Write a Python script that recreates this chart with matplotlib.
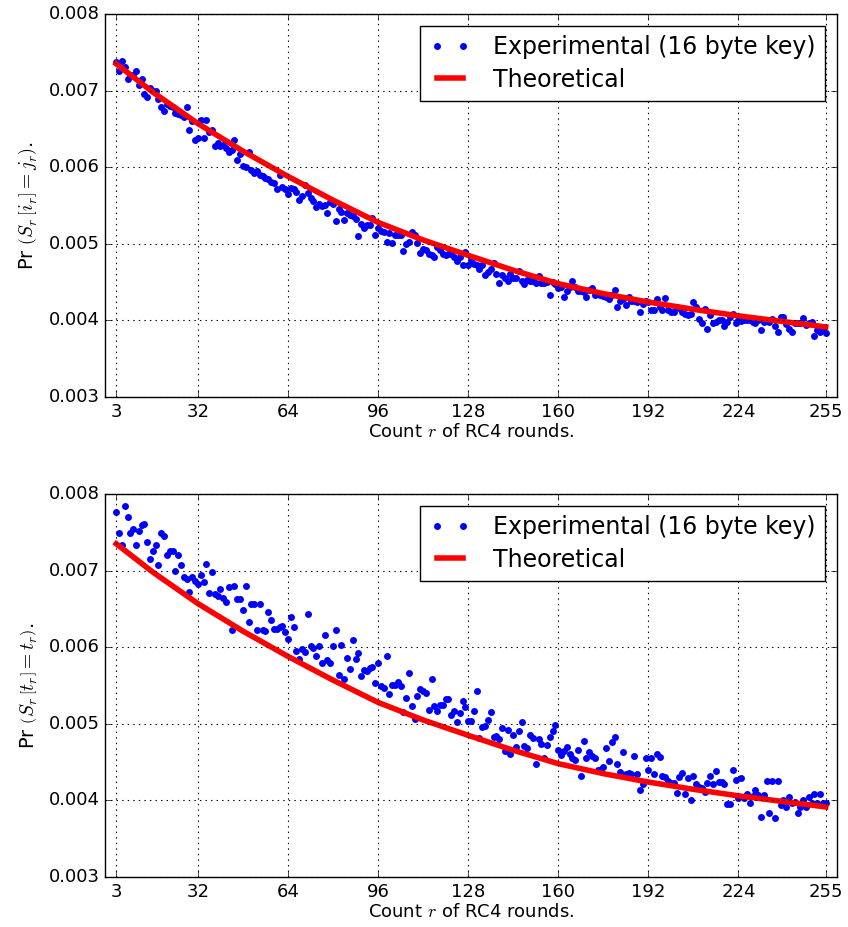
import numpy as np
import matplotlib
matplotlib.use("Agg")
import matplotlib.pyplot as plt

plt.style.use("classic")
plt.rcParams["figure.facecolor"] = "white"
plt.rcParams["savefig.facecolor"] = "white"

# rounds r = 3 .. 255, probabilities in units of 1e-3
rounds = np.arange(3, 256)

exp_ij = [
    7.37, 7.25, 7.38, 7.31, 7.15, 7.20, 7.21, 7.26, 7.07, 7.15,
    6.96, 6.92, 7.03, 7.00, 6.99, 6.89, 6.78, 6.73, 6.83, 6.80,
    6.79, 6.71, 6.70, 6.68, 6.66, 6.78, 6.48, 6.60, 6.36, 6.38,
    6.61, 6.38, 6.61, 6.46, 6.48, 6.28, 6.31, 6.28, 6.29, 6.25,
    6.20, 6.22, 6.35, 6.10, 6.17, 6.02, 6.00, 6.20, 5.97, 5.92,
    5.95, 5.90, 5.88, 5.86, 5.84, 5.81, 5.79, 5.72, 5.90, 5.74,
    5.72, 5.65, 5.73, 5.71, 5.67, 5.57, 5.63, 5.77, 5.66, 5.60,
    5.56, 5.48, 5.52, 5.49, 5.51, 5.40, 5.54, 5.52, 5.30, 5.46,
    5.42, 5.31, 5.40, 5.38, 5.36, 5.33, 5.10, 5.26, 5.21, 5.24,
    5.25, 5.34, 5.12, 5.20, 5.17, 5.15, 5.03, 5.14, 5.01, 5.12,
    5.12, 5.12, 4.91, 5.00, 5.02, 5.15, 5.12, 5.01, 4.88, 4.93,
    4.92, 4.87, 4.85, 4.83, 4.96, 4.92, 4.87, 4.85, 4.87, 4.87,
    4.83, 4.77, 4.83, 4.73, 4.89, 4.72, 4.79, 4.74, 4.73, 4.67,
    4.73, 4.59, 4.63, 4.67, 4.75, 4.60, 4.49, 4.59, 4.56, 4.52,
    4.60, 4.56, 4.55, 4.64, 4.51, 4.48, 4.53, 4.52, 4.51, 4.49,
    4.58, 4.49, 4.49, 4.50, 4.33, 4.50, 4.47, 4.42, 4.43, 4.31,
    4.38, 4.44, 4.52, 4.43, 4.39, 4.38, 4.37, 4.30, 4.40, 4.42,
    4.33, 4.34, 4.33, 4.32, 4.30, 4.28, 4.33, 4.40, 4.17, 4.26,
    4.28, 4.20, 4.30, 4.26, 4.26, 4.24, 4.11, 4.22, 4.26, 4.24,
    4.14, 4.13, 4.28, 4.17, 4.14, 4.29, 4.13, 4.11, 4.11, 4.17,
    4.16, 4.11, 4.09, 4.07, 4.09, 4.24, 4.18, 4.02, 3.96, 4.15,
    3.89, 4.07, 3.96, 3.98, 4.00, 4.00, 3.93, 3.98, 4.04, 4.09,
    3.97, 4.00, 3.99, 4.00, 4.01, 4.00, 3.98, 3.96, 4.00, 3.87,
    3.98, 4.00, 3.98, 4.02, 3.93, 3.85, 4.05, 4.04, 3.95, 3.89,
    3.85, 3.96, 3.96, 3.97, 4.03, 3.94, 3.96, 3.98, 3.80, 3.87,
    3.85, 3.87, 3.84,
]

exp_tt = [
    7.76, 7.49, 7.34, 7.84, 7.70, 7.49, 7.54, 7.34, 7.52, 7.59,
    7.61, 7.37, 7.15, 7.26, 7.33, 7.07, 7.49, 7.45, 7.21, 7.25,
    7.25, 6.99, 7.21, 7.07, 6.92, 6.89, 6.72, 6.92, 6.86, 6.82,
    6.94, 6.85, 7.09, 6.71, 6.98, 6.70, 6.67, 6.76, 6.64, 6.59,
    6.79, 6.23, 6.80, 6.63, 6.63, 6.49, 6.80, 6.33, 6.57, 6.56,
    6.23, 6.56, 6.23, 6.21, 6.46, 6.35, 6.24, 6.24, 6.26, 6.28,
    6.20, 6.11, 6.40, 6.27, 5.95, 5.84, 5.98, 5.94, 6.43, 6.02,
    5.99, 5.88, 6.02, 5.80, 6.16, 5.83, 5.80, 6.01, 6.22, 5.64,
    6.03, 5.59, 5.86, 5.72, 6.10, 5.84, 5.92, 5.63, 5.70, 5.69,
    5.73, 5.74, 5.53, 5.80, 5.50, 5.47, 5.88, 5.39, 5.51, 5.51,
    5.54, 5.49, 5.16, 5.34, 5.66, 5.23, 5.06, 5.36, 5.45, 5.43,
    5.40, 5.18, 5.59, 5.23, 5.17, 5.24, 5.25, 5.32, 5.33, 5.11,
    5.17, 5.03, 5.14, 5.30, 5.22, 5.04, 5.04, 5.17, 5.43, 4.82,
    4.96, 4.97, 5.05, 5.15, 4.83, 4.84, 4.80, 4.94, 4.65, 4.92,
    4.60, 4.86, 4.70, 4.90, 5.02, 4.71, 4.69, 4.86, 4.81, 4.48,
    4.80, 4.74, 4.56, 4.73, 4.83, 4.90, 4.98, 4.66, 4.59, 4.64,
    4.70, 4.61, 4.56, 4.53, 4.66, 4.32, 4.77, 4.55, 4.63, 4.58,
    4.56, 4.40, 4.40, 4.43, 4.69, 4.51, 4.76, 4.83, 4.48, 4.37,
    4.63, 4.35, 4.36, 4.34, 4.58, 4.35, 4.13, 4.22, 4.56, 4.40,
    4.55, 4.35, 4.61, 4.57, 4.32, 4.30, 4.26, 4.23, 4.23, 4.10,
    4.30, 4.36, 4.09, 4.29, 4.01, 4.32, 4.21, 4.17, 4.16, 4.11,
    4.23, 4.32, 4.21, 4.38, 4.24, 4.24, 4.21, 3.95, 3.95, 4.40,
    4.27, 4.03, 4.29, 4.03, 4.09, 3.96, 4.06, 4.14, 4.07, 3.78,
    4.07, 4.26, 3.84, 4.26, 3.77, 4.26, 3.94, 4.00, 3.91, 4.04,
    3.97, 3.98, 3.83, 3.91, 4.01, 3.91, 4.04, 3.96, 4.09, 3.97,
    4.08, 3.97, 3.97,
]

# theoretical curve (same in both panels)
theo_r = [3, 16, 32, 48, 64, 80, 96, 112, 128, 144, 160, 176, 192, 208, 224, 240, 255]
theo_p = [7.35, 6.98, 6.57, 6.21, 5.88, 5.57, 5.28, 5.05, 4.85, 4.655,
          4.48, 4.35, 4.24, 4.145, 4.06, 3.985, 3.915]

xticks = [3, 32, 64, 96, 128, 160, 192, 224, 255]
yticks = [0.003, 0.004, 0.005, 0.006, 0.007, 0.008]

panels = [
    (exp_ij, r"Pr $\left(S_r\,\left[i_r\right]=j_r\right)$."),
    (exp_tt, r"Pr $\left(S_r\,\left[t_r\right]=t_r\right)$."),
]

fig = plt.figure(figsize=(8.48, 9.27), dpi=100)
positions = [[0.1238, 0.5717, 0.8632, 0.4132], [0.1238, 0.0539, 0.8632, 0.4132]]

for pos, (vals, ylab) in zip(positions, panels):
    ax = fig.add_axes(pos)
    ax.plot(rounds, np.array(vals) * 1e-3, "o", color="b", ms=5, mec="b",
            mew=0, label="Experimental (16 byte key)")
    ax.plot(theo_r, np.array(theo_p) * 1e-3, "-", color="r", lw=4,
            label="Theoretical")
    ax.set_xlim(-1, 259)
    ax.set_ylim(0.003, 0.008)
    ax.set_xticks(xticks)
    ax.set_yticks(yticks)
    ax.set_xticklabels([str(t) for t in xticks])
    ax.set_yticklabels(["%.3f" % t for t in yticks])
    ax.tick_params(labelsize=13)
    ax.grid(True, color="k", linestyle=":", linewidth=0.8)
    ax.set_xlabel(r"Count $r$ of RC4 rounds.", fontsize=13, labelpad=2)
    ax.set_ylabel(ylab, fontsize=14, labelpad=6)
    ax.legend(loc="upper right", numpoints=2, fontsize=17, handlelength=1.7,
              handletextpad=1.0, labelspacing=0.35, borderpad=0.4,
              fancybox=False)

fig.savefig("out.png", dpi=100)
